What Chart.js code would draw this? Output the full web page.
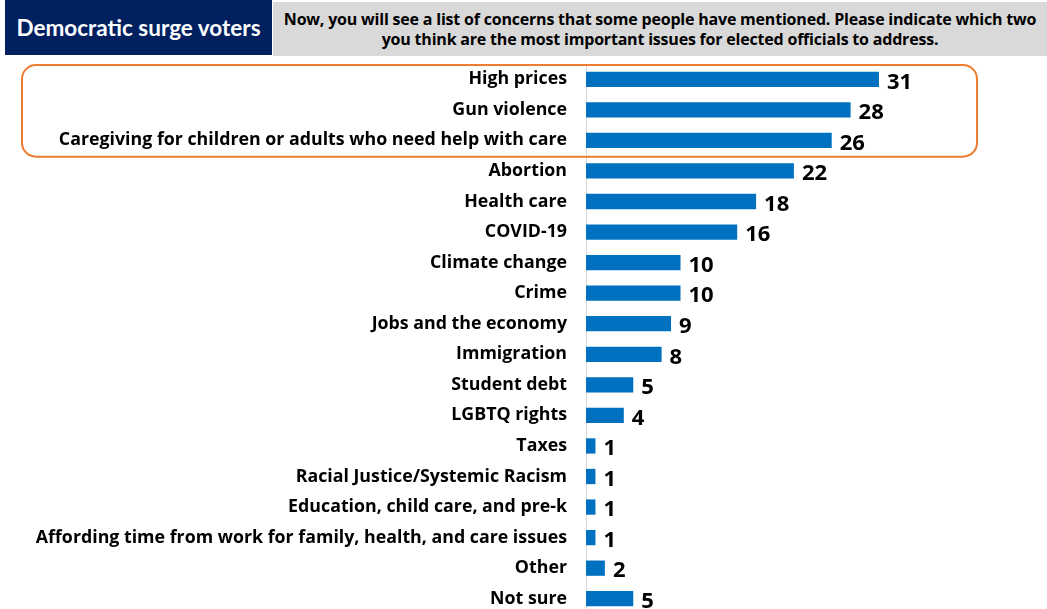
<!DOCTYPE html>
<html>
<head>
<meta charset="utf-8">
<script src="https://cdn.jsdelivr.net/npm/chart.js@4"></script>
<style>
  html, body { margin: 0; padding: 0; background: #fff; }
  body { width: 1047px; height: 609px; position: relative; overflow: hidden; font-family: Lato, "Liberation Sans", sans-serif; }
  #issues_chart { position: absolute; left: 0; top: 0; }
  .tag { position: absolute; left: 5px; top: 0; width: 267px; height: 55px; background: #002060; color: #fff;
         font-weight: 700; font-size: 22.5px; display: flex; align-items: center; justify-content: center; }
  .question { position: absolute; left: 273px; top: 2px; width: 774px; height: 54px; background: #d9d9d9; color: #000;
         font-family: "Open Sans", sans-serif; font-weight: 700; font-size: 16px; line-height: 20px; text-align: center;
         display: flex; align-items: center; justify-content: center; letter-spacing: -0.2px; }
</style>
</head>
<body>
<!-- canvas runs a few px past the page bottom so the last bar sits at the edge -->
<canvas id="issues_chart" width="1047" height="614"></canvas>
<div class="tag">Democratic surge voters</div>
<div class="question">Now, you will see a list of concerns that some people have mentioned. Please indicate which two<br>you think are the most important issues for elected officials to address.</div>
<script>
var issues = [
    "High prices",
    "Gun violence",
    "Caregiving for children or adults who need help with care",
    "Abortion",
    "Health care",
    "COVID-19",
    "Climate change",
    "Crime",
    "Jobs and the economy",
    "Immigration",
    "Student debt",
    "LGBTQ rights",
    "Taxes",
    "Racial Justice/Systemic Racism",
    "Education, child care, and pre-k",
    "Affording time from work for family, health, and care issues",
    "Other",
    "Not sure"
];
var percents = [31, 28, 26, 22, 18, 16, 10, 10, 9, 8, 5, 4, 1, 1, 1, 1, 2, 5];
var highlighted = 3; // top three issues get the orange box

// numbers printed at the end of each bar
var valueLabels = {
    id: 'valueLabels',
    afterDatasetsDraw: function(chart) {
        var ctx = chart.ctx;
        var meta = chart.getDatasetMeta(0);
        ctx.save();
        ctx.font = '700 22px "Open Sans", sans-serif';
        ctx.fillStyle = '#000';
        ctx.textAlign = 'left';
        ctx.textBaseline = 'middle';
        meta.data.forEach(function(bar, i) {
            ctx.fillText(String(percents[i]), bar.x + 8, bar.y + 3);
        });
        ctx.restore();
    }
};

// rounded orange frame around the leading issues
var topFrame = {
    id: 'topFrame',
    afterDraw: function(chart) {
        var y = chart.scales.y;
        var step = y.getPixelForValue(1) - y.getPixelForValue(0);
        var top = y.getPixelForValue(0) - step / 2 + 1;
        var bottom = y.getPixelForValue(highlighted - 1) + step / 2 + 1;
        var left = 22, right = chart.width - 70;
        var ctx = chart.ctx;
        ctx.save();
        ctx.strokeStyle = '#ed7d31';
        ctx.lineWidth = 2;
        ctx.beginPath();
        ctx.roundRect(left, top, right - left, bottom - top, 14);
        ctx.stroke();
        ctx.restore();
    }
};

var ctx = document.getElementById('issues_chart');
var myChart = new Chart(ctx, {
    type: 'bar',
    data: {
        labels: issues,
        datasets: [{
            data: percents,
            backgroundColor: '#0070c0',
            barPercentage: 0.5,
            categoryPercentage: 1.0
        }]
    },
    plugins: [valueLabels, topFrame],
    options: {
        indexAxis: 'y',
        responsive: false,
        animation: false,
        layout: {
            padding: { top: 64, bottom: 0, left: 0, right: 83 }
        },
        plugins: {
            legend: { display: false },
            tooltip: { enabled: false }
        },
        scales: {
            x: {
                display: false,
                min: 0,
                max: 40
            },
            y: {
                grid: { display: false, drawTicks: false },
                border: { display: true, color: '#d9d9d9', width: 1 },
                afterFit: function(scale) {
                    scale.width = 586;
                    // tick padding would otherwise shrink the plot vertically
                    scale.paddingTop = 0;
                    scale.paddingBottom = 0;
                },
                ticks: {
                    padding: 19,
                    color: '#000',
                    font: { family: '"Open Sans", sans-serif', weight: '700', size: 17.8 }
                }
            }
        }
    }
});
</script>
</body>
</html>
